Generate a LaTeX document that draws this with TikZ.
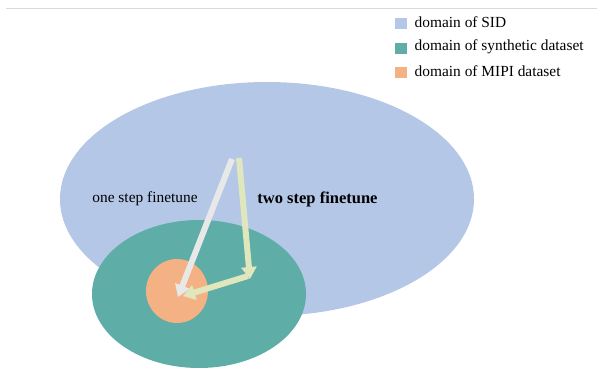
\documentclass[tikz,border=0pt]{standalone}
\usepackage{fontspec}
\setmainfont{Liberation Serif}
\usetikzlibrary{arrows.meta}
\definecolor{sidblue}{HTML}{B4C7E7}
\definecolor{synteal}{HTML}{5EADA7}
\definecolor{mipiorange}{HTML}{F4B183}
\definecolor{arrgray}{HTML}{E8E8E8}
\definecolor{arryellow}{HTML}{E0E7BC}
\definecolor{topline}{HTML}{D9D9D9}
\begin{document}
\begin{tikzpicture}[x=1pt,y=-1pt,
  lbl/.style={font=\fontsize{15.4}{18}\selectfont, inner sep=0pt},
  legsq/.style={minimum width=12pt, minimum height=11pt, inner sep=0pt},
  bigarrow/.style={line width=6pt, -{Triangle[width=15pt,length=12pt]}}]
\useasboundingbox (0,0) rectangle (597,367);
\begin{scope}
\clip (0,0) rectangle (597,367);
\draw[topline, line width=1pt] (6,8) -- (597,8);
\fill[sidblue] (267,199) ellipse [x radius=207, y radius=117];
\fill[synteal] (199,294) ellipse [x radius=107, y radius=74];
\fill[mipiorange] (177,291) ellipse [x radius=31, y radius=32];
\end{scope}
\coordinate (g1) at (232,159);
\coordinate (g2) at (178,297);
\coordinate (y1) at (239,158);
\coordinate (y2) at (250,279);
\coordinate (y3) at (248,276);
\coordinate (y4) at (183,296);
\draw[bigarrow, arrgray] (g1) -- (g2);
\draw[bigarrow, arryellow] (y1) -- (y2);
\draw[bigarrow, arryellow] (y3) -- (y4);
\node[lbl] (one) at (145,199) {one step finetune};
\node[lbl, font=\fontsize{16.5}{19}\selectfont\bfseries] (two) at (317.5,199) {two step finetune};
\node[legsq, fill=sidblue] (s1) at (400.5,23) {};
\node[legsq, fill=synteal] (s2) at (400.5,48) {};
\node[legsq, fill=mipiorange] (s3) at (400.5,72) {};
\node[lbl, anchor=west] (t1) at (414.5,22) {domain of SID};
\node[lbl, anchor=west] (t2) at (414.5,47) {domain of synthetic dataset};
\node[lbl, anchor=west] (t3) at (414.5,71) {domain of MIPI dataset};
\end{tikzpicture}
\end{document}
